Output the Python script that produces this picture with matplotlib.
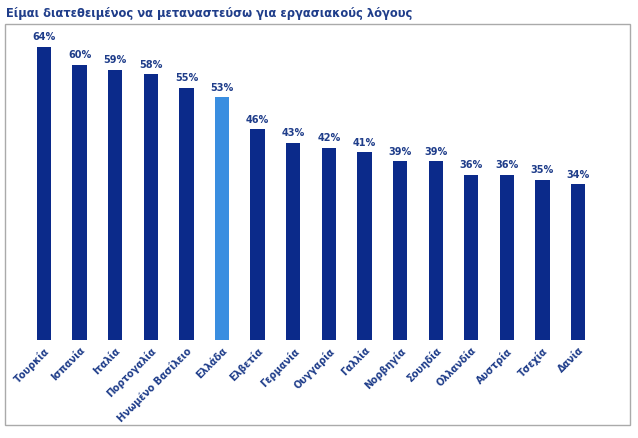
import matplotlib.pyplot as plt
from matplotlib.patches import Rectangle

countries = ['Τουρκία', 'Ισπανία', 'Ιταλία', 'Πορτογαλία', 'Ηνωμένο Βασίλειο', 'Ελλάδα',
             'Ελβετία', 'Γερμανία', 'Ουγγαρία', 'Γαλλία', 'Νορβηγία', 'Σουηδία',
             'Ολλανδία', 'Αυστρία', 'Τσεχία', 'Δανία']
values = [64, 60, 59, 58, 55, 53, 46, 43, 42, 41, 39, 39, 36, 36, 35, 34]

colors = ['#3a8ee0' if c == 'Ελλάδα' else '#0b2a8a' for c in countries]

fig = plt.figure(figsize=(6.38, 4.38), dpi=100)
fig.patches.append(Rectangle((0.008, 0.03), 0.98, 0.915, transform=fig.transFigure,
                             fill=False, edgecolor='#aaaaaa', linewidth=1))
fig.text(0.01, 0.97, 'Είμαι διατεθειμένος να μεταναστεύσω για εργασιακούς λόγους',
         color='#1f3d8a', fontsize=8.3, fontweight='bold', va='center')

ax = fig.add_axes([0.041, 0.224, 0.893, 0.732])
x = range(len(countries))
ax.bar(x, values, width=0.4, color=colors)
for i, v in enumerate(values):
    ax.text(i, v + 1, f'{v}%', ha='center', va='bottom', fontsize=7,
            fontweight='bold', color='#1f3d8a')
ax.set_xlim(-0.5, len(countries) - 0.5)
ax.set_ylim(0, 70)
ax.set_xticks(list(x))
ax.set_xticklabels(countries, rotation=45, ha='right', rotation_mode='anchor',
                   fontsize=7, fontweight='bold', color='#1f3d8a')
ax.tick_params(axis='x', length=0, pad=4)
ax.set_yticks([])
for s in ax.spines.values():
    s.set_visible(False)

fig.savefig('out.png', dpi=100)
